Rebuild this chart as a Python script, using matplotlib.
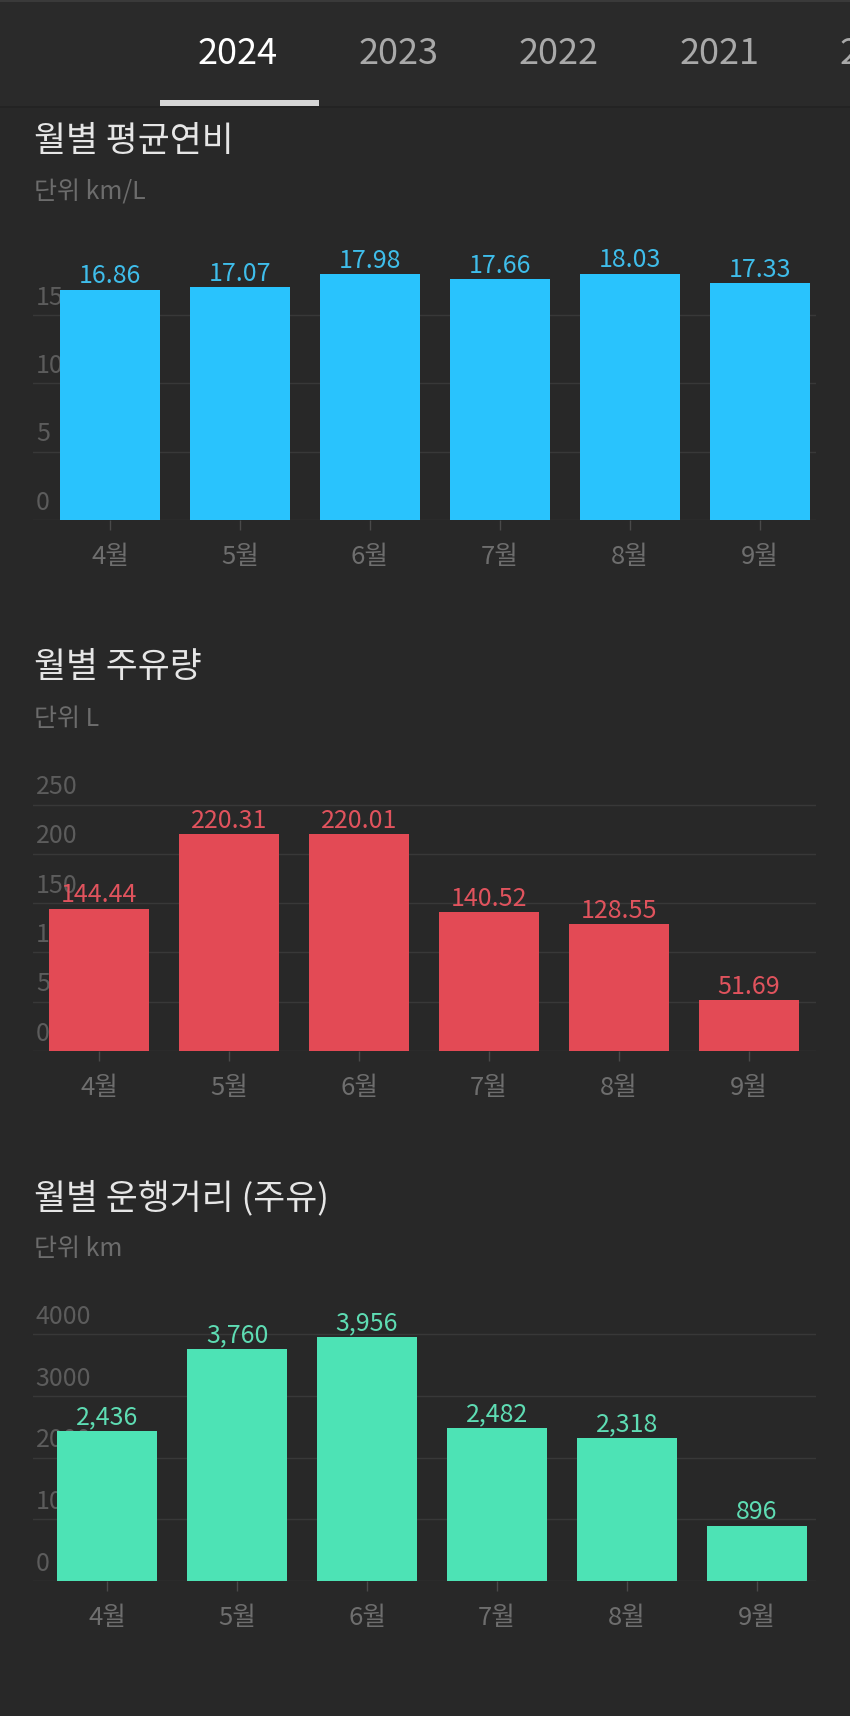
import matplotlib.pyplot as plt
from matplotlib.patches import Rectangle

plt.rcParams['font.family'] = ['Noto Sans CJK KR', 'DejaVu Sans']

W, H = 850, 1716

# 데이터
years = ['2024', '2023', '2022', '2021', '2020']
months = ['4월', '5월', '6월', '7월', '8월', '9월']

fuel_eff = [16.86, 17.07, 17.98, 17.66, 18.03, 17.33]
fuel_eff_ticks = [0, 5, 10, 15]

fuel_vol = [144.44, 220.31, 220.01, 140.52, 128.55, 51.69]
fuel_vol_ticks = [0, 50, 100, 150, 200, 250]

distance = [2436, 3760, 3956, 2482, 2318, 896]
distance_ticks = [0, 1000, 2000, 3000, 4000]

BG = '#282828'
GRID = '#383838'

fig = plt.figure(figsize=(W / 100, H / 100), dpi=100, facecolor=BG)

# 배경 (픽셀 좌표)
bg = fig.add_axes([0, 0, 1, 1])
bg.set_xlim(0, W)
bg.set_ylim(H, 0)
bg.axis('off')
bg.add_patch(Rectangle((0, 0), W, 107, color='#2a2a2a', lw=0))
bg.add_patch(Rectangle((0, 0), W, 2, color='#3a3a3a', lw=0))
bg.add_patch(Rectangle((0, 106), W, 1.5, color='#232323', lw=0))

# 연도 탭
for i, yr in enumerate(years):
    bg.text(238 + 160.5 * i, 54, yr, ha='center', va='center', fontsize=26,
            color='#ffffff' if i == 0 else '#a9a9a9')
bg.add_patch(Rectangle((160, 100), 159, 6, color='#d6d6d6', lw=0))


def draw_chart(title, unit, values, ticks, fmt, bar_c, text_c,
               title_y, base, scale, top, c0):
    bg.text(34, title_y + 4, title, ha='left', va='center', fontsize=25,
            color='#e6e6e6')
    bg.text(34, title_y + 55, unit, ha='left', va='center', fontsize=18,
            color='#6c6c6c')

    left, right = 33, 816
    ax = fig.add_axes([left / W, 1 - base / H, (right - left) / W,
                       (base - top) / H])
    ax.set_facecolor('none')
    x = list(range(len(values)))
    ax.bar(x, values, width=100 / 130, color=bar_c, zorder=3)
    ax.set_xlim((left - c0) / 130, (right - c0) / 130)
    ax.set_ylim(0, (base - top) / scale)

    for t in ticks:
        ax.axhline(t, color=GRID, lw=1, zorder=1)
        ax.annotate(str(t), (0, t), xycoords=ax.get_yaxis_transform(),
                    xytext=(2, 12.5), textcoords='offset points',
                    ha='left', va='center', fontsize=18, color='#5c5c5c',
                    zorder=2)

    for i, v in zip(x, values):
        ax.annotate(fmt.format(v), (i, v), xytext=(0, 4.5),
                    textcoords='offset points', ha='center', va='baseline',
                    fontsize=18, color=text_c, zorder=4,
                    annotation_clip=False)

    for s in ax.spines.values():
        s.set_visible(False)
    ax.set_yticks([])
    ax.set_xticks(x, months)
    ax.tick_params(axis='x', length=7, width=1, color='#4a4a4a',
                   labelcolor='#6e6e6e', labelsize=18.5, pad=10.5)
    return ax


draw_chart('월별 평균연비', '단위 km/L', fuel_eff, fuel_eff_ticks, '{:.2f}',
           '#29c3fd', '#3fbdea', 137, 520, 68.3 / 5, 230, 110)
draw_chart('월별 주유량', '단위 L', fuel_vol, fuel_vol_ticks, '{:.2f}',
           '#e34a55', '#e0535d', 664, 1051, 49.3 / 50, 780, 99)
draw_chart('월별 운행거리 (주유)', '단위 km', distance, distance_ticks, '{:,}',
           '#4de3b5', '#5edcb3', 1194, 1581, 61.7 / 1000, 1300, 107)

fig.savefig('out.png', dpi=100, facecolor=BG)
